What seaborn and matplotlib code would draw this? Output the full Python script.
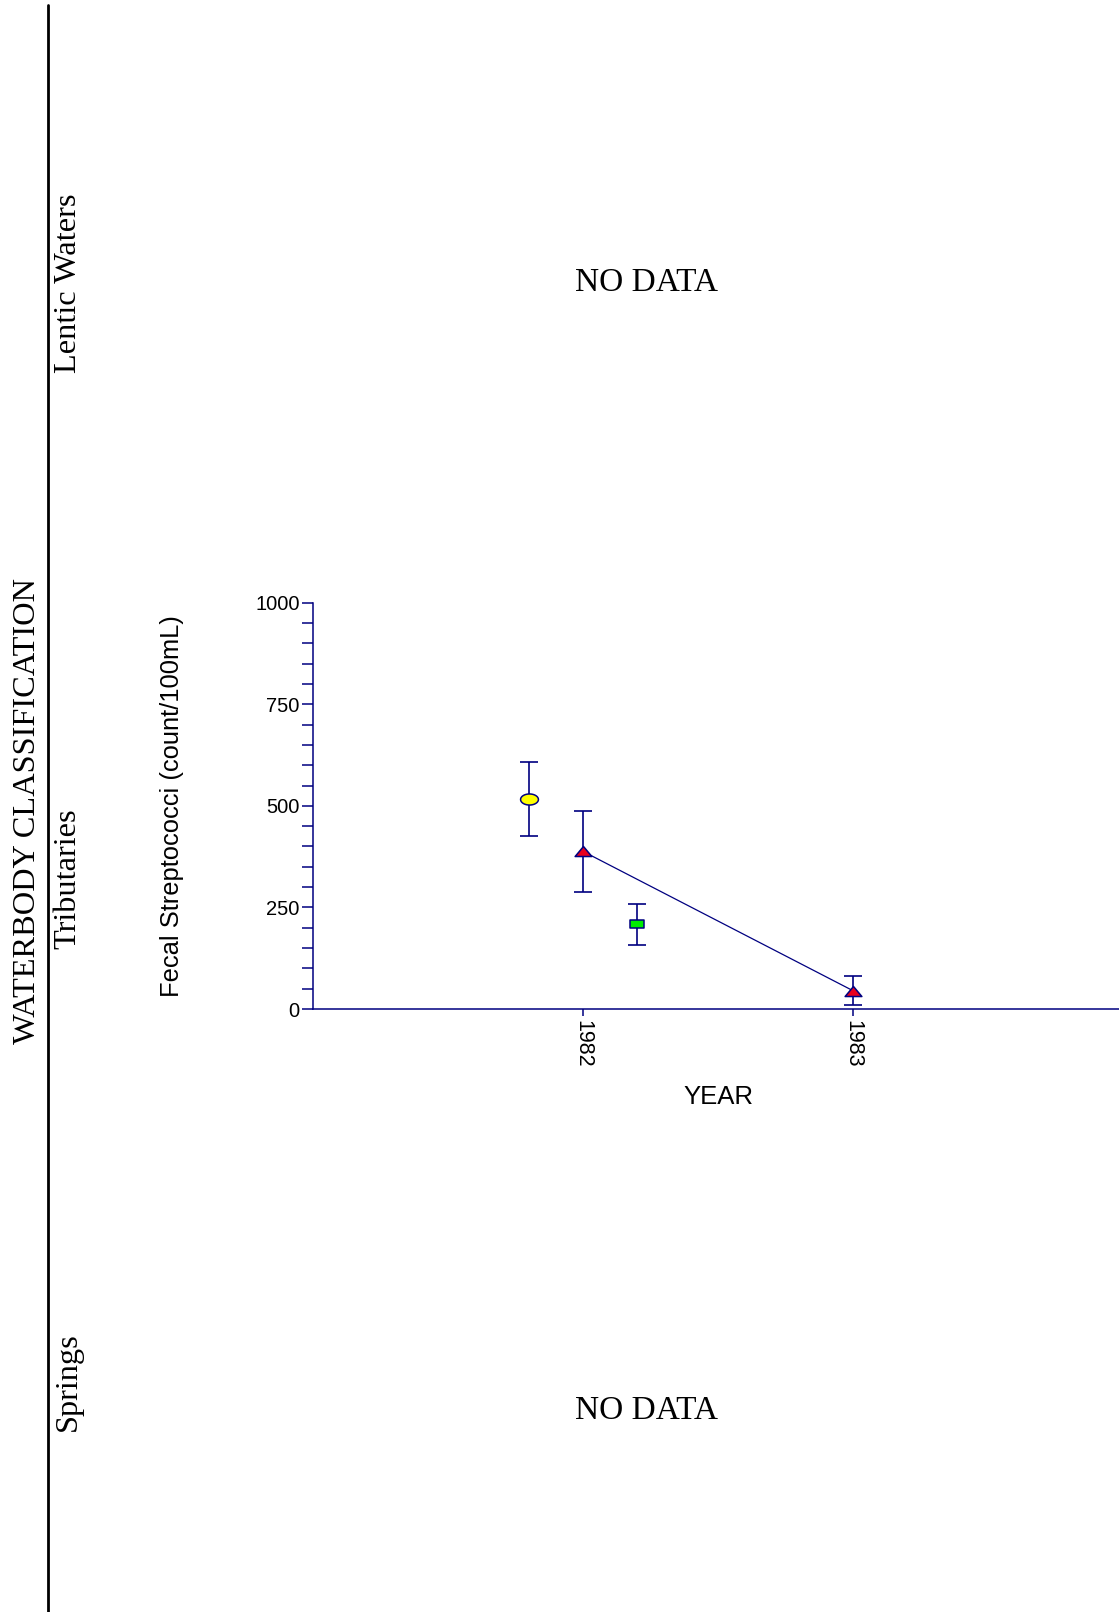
import numpy as np
import pandas as pd
import matplotlib
matplotlib.use("Agg")
import matplotlib.pyplot as plt
from matplotlib.path import Path
import seaborn as sns

# ---- data ----
years = [1981.8, 1982.0, 1982.2, 1983.0]
means = [517, 388, 208, 45]
errs = [91, 100, 50, 35]
groups = ["A", "B", "C", "B"]
row_labels = ["Lentic Waters", "Tributaries", "Springs"]
y_ticks = [0, 250, 500, 750, 1000]
x_ticks = [1982, 1983]

df = pd.DataFrame({"year": years, "value": means, "err": errs, "group": groups})

NAVY = "#000080"

# ---- marker shapes ----
theta = np.linspace(0, 2 * np.pi, 60)
ellipse = Path(np.column_stack([np.cos(theta), 0.62 * np.sin(theta)]), closed=True)
rect = Path([(-1, -0.6), (1, -0.6), (1, 0.6), (-1, 0.6), (-1, -0.6)], closed=True)
tri = Path([(-1, -0.6), (1, -0.6), (0, 0.6), (-1, -0.6)], closed=True)
styles = {
    "A": dict(marker=ellipse, color="#ffff00", s=165),
    "B": dict(marker=tri, color="#e8001c", s=145),
    "C": dict(marker=rect, color="#00ee00", s=105),
}

sns.set_style("white")
plt.rcParams["font.family"] = ["Liberation Sans", "DejaVu Sans"]
plt.rcParams["text.color"] = "black"
plt.rcParams["axes.labelcolor"] = "black"
plt.rcParams["xtick.labelcolor"] = "black"
plt.rcParams["ytick.labelcolor"] = "black"

fig = plt.figure(figsize=(11.19, 16.12), dpi=100)
ax = fig.add_axes([313 / 1119, 1 - 1009 / 1612, 810 / 1119, 406.3 / 1612])

# error bars
ax.errorbar(df["year"], df["value"], yerr=df["err"], fmt="none",
            ecolor=NAVY, elinewidth=1.2, capsize=6.5, capthick=1.2, zorder=2)

# connected series
line_df = df[df["group"] == "B"]
sns.lineplot(data=line_df, x="year", y="value", ax=ax, color=NAVY,
             linewidth=0.9, zorder=3, legend=False)

# markers
for g, st in styles.items():
    sub = df[df["group"] == g]
    sns.scatterplot(data=sub, x="year", y="value", ax=ax, marker=st["marker"],
                    color=st["color"], s=st["s"], edgecolor=NAVY,
                    linewidth=1.1, zorder=4, legend=False)

ax.set_xlim(1981, 1984)
ax.set_ylim(0, 1000)
ax.set_xticks(x_ticks)
ax.set_xticklabels([str(v) for v in x_ticks], rotation=270, fontsize=15.5,
                   color="black")
ax.set_yticks(y_ticks)
ax.set_yticklabels([str(v) for v in y_ticks], fontsize=14.5, color="black")
ax.set_yticks(np.arange(0, 1001, 50), minor=True)
ax.tick_params(axis="y", which="both", direction="out", length=7.7, width=1.1,
               color=NAVY, pad=2, left=True)
ax.tick_params(axis="x", which="major", direction="out", length=5, width=1.1,
               color=NAVY, pad=3, bottom=True)
for side in ["top", "right"]:
    ax.spines[side].set_visible(False)
for side in ["left", "bottom"]:
    ax.spines[side].set_color(NAVY)
    ax.spines[side].set_linewidth(1.1)
ax.set_xlabel("YEAR", fontsize=18.5, va="center", color="black")
ax.xaxis.set_label_coords(0.5, (1009 - 1097) / 406.3)
ax.set_ylabel("Fecal Streptococci (count/100mL)", fontsize=18.4, va="center",
              color="black")
ax.yaxis.set_label_coords((172 - 313) / 810, 0.5)
ax.patch.set_alpha(0)

# classification sidebar
fig.add_artist(plt.Line2D([48 / 1119, 48 / 1119], [0, 1 - 5 / 1612],
                          color="black", linewidth=2, transform=fig.transFigure))
serif = ["Liberation Serif", "DejaVu Serif"]
fig.text(28 / 1119, 1 - 811 / 1612, "WATERBODY CLASSIFICATION", rotation=90,
         ha="center", va="center", fontsize=23.3, family=serif, color="black")
for lab, yc in zip(row_labels, [283, 879, 1382]):
    fig.text(68 / 1119, 1 - yc / 1612, lab, rotation=90, ha="center",
             va="center", fontsize=23.3, family=serif, color="black")
for yc in [283, 1411]:
    fig.text(646.5 / 1119, 1 - yc / 1612, "NO DATA", ha="center", va="center",
             fontsize=24, family=serif, color="black")

fig.savefig("out.png", dpi=100)
